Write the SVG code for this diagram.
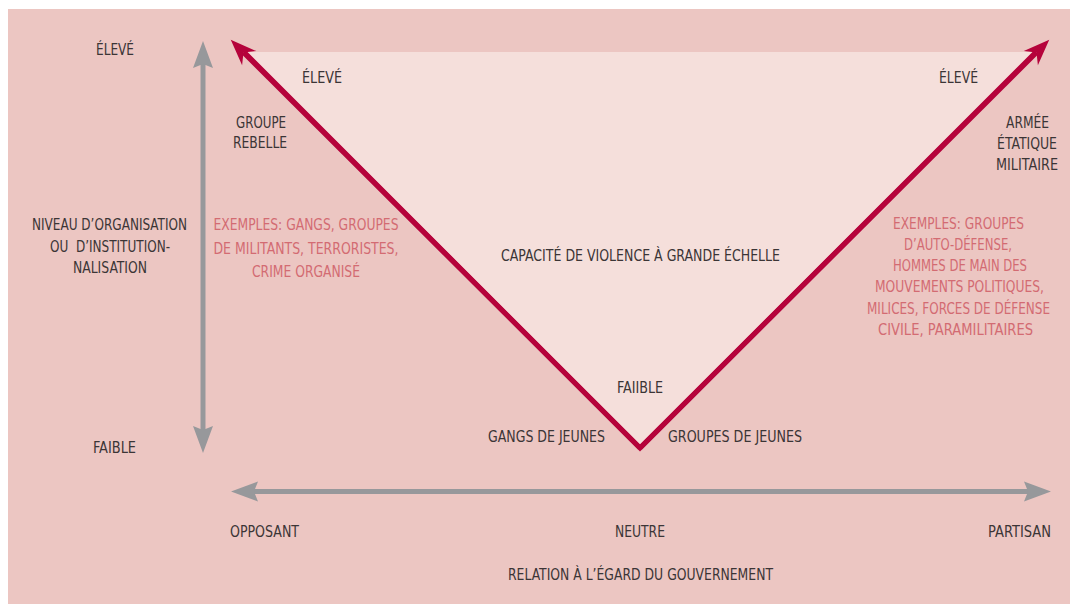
<svg xmlns="http://www.w3.org/2000/svg" width="1070" height="604" viewBox="0 0 1070 604">
  <style>
    text { font-family: "Liberation Sans Narrow", "DejaVu Sans Condensed", "Liberation Sans", sans-serif; font-size: 16px; text-anchor: middle; }
    .dark { fill: #3b3536; }
    .ex { fill: #d36b72; }
    .red { stroke: #b5033b; stroke-width: 5; fill: none; stroke-linejoin: miter; stroke-miterlimit: 4; }
    .grey { stroke: #97989b; stroke-width: 5; fill: none; }
  </style>
  <defs>
    <marker id="head-red" markerUnits="userSpaceOnUse" markerWidth="40" markerHeight="30" viewBox="-10 -15 40 30" refX="0" refY="0" orient="auto" overflow="visible">
      <path d="M18,0 L-8,-10 L0,0 L-8,10 Z" fill="#b5033b"/>
    </marker>
    <marker id="head-grey" markerUnits="userSpaceOnUse" markerWidth="40" markerHeight="30" viewBox="-10 -15 40 30" refX="0" refY="0" orient="auto" overflow="visible">
      <path d="M22,0 L-5,-10 L-1,0 L-5,10 Z" fill="#97989b"/>
    </marker>
  </defs>

  <!-- panel -->
  <rect x="0" y="0" width="1070" height="604" fill="#ffffff"/>
  <rect x="8" y="9" width="1062" height="595" fill="#ecc6c2"/>

  <!-- violence capacity area -->
  <polygon points="640,448 243,52 1037,52" fill="#f5dfdb"/>

  <g id="connectors">
    <!-- V shape -->
    <polyline class="red" points="244,52 640,448 1036,52"/>
    <line class="red" x1="640" y1="448" x2="243.5" y2="52.5" stroke-width="0" marker-end="url(#head-red)"/>
    <line class="red" x1="640" y1="448" x2="1036.5" y2="52.5" stroke-width="0" marker-end="url(#head-red)"/>
    <!-- vertical axis -->
    <line class="grey" x1="203" y1="240" x2="203" y2="63" marker-end="url(#head-grey)"/>
    <line class="grey" x1="203" y1="240" x2="203" y2="431" marker-end="url(#head-grey)"/>
    <!-- horizontal axis -->
    <line class="grey" x1="640" y1="491.5" x2="253" y2="491.5" marker-end="url(#head-grey)"/>
    <line class="grey" x1="640" y1="491.5" x2="1029" y2="491.5" marker-end="url(#head-grey)"/>
  </g>

  <g id="axis-y-high"><text class="dark" x="115" y="55" textLength="38" lengthAdjust="spacingAndGlyphs">ÉLEVÉ</text></g>
  <g id="axis-y-low"><text class="dark" x="114.5" y="453" textLength="43" lengthAdjust="spacingAndGlyphs">FAIBLE</text></g>
  <g id="axis-y-title">
    <text class="dark" x="109.5" y="230" textLength="155" lengthAdjust="spacingAndGlyphs">NIVEAU D’ORGANISATION</text>
    <text class="dark" x="110" y="252" textLength="120" lengthAdjust="spacingAndGlyphs" xml:space="preserve">OU  D’INSTITUTION-</text>
    <text class="dark" x="110" y="273" textLength="74" lengthAdjust="spacingAndGlyphs">NALISATION</text>
  </g>

  <g id="left-high"><text class="dark" x="322" y="83" textLength="40" lengthAdjust="spacingAndGlyphs">ÉLEVÉ</text></g>
  <g id="right-high"><text class="dark" x="958.5" y="83" textLength="39" lengthAdjust="spacingAndGlyphs">ÉLEVÉ</text></g>

  <g id="rebel-group">
    <text class="dark" x="261" y="128" textLength="50" lengthAdjust="spacingAndGlyphs">GROUPE</text>
    <text class="dark" x="260" y="148" textLength="54" lengthAdjust="spacingAndGlyphs">REBELLE</text>
  </g>

  <g id="state-army">
    <text class="dark" x="1027.5" y="128" textLength="43" lengthAdjust="spacingAndGlyphs">ARMÉE</text>
    <text class="dark" x="1027" y="149" textLength="60" lengthAdjust="spacingAndGlyphs">ÉTATIQUE</text>
    <text class="dark" x="1027" y="170" textLength="62" lengthAdjust="spacingAndGlyphs">MILITAIRE</text>
  </g>

  <g id="left-examples">
    <text class="ex" x="306" y="230" textLength="185" lengthAdjust="spacingAndGlyphs">EXEMPLES: GANGS, GROUPES</text>
    <text class="ex" x="306" y="254" textLength="185" lengthAdjust="spacingAndGlyphs">DE MILITANTS, TERRORISTES,</text>
    <text class="ex" x="306" y="277" textLength="108" lengthAdjust="spacingAndGlyphs">CRIME ORGANISÉ</text>
  </g>

  <!-- narrow column: glyphs pre-condensed by the transform, then fitted -->
  <g id="right-examples">
    <text class="ex" transform="translate(958.5,228.5) scale(0.8,1)" textLength="163.75" lengthAdjust="spacingAndGlyphs">EXEMPLES: GROUPES</text>
    <text class="ex" transform="translate(958,249.5) scale(0.8,1)" textLength="135" lengthAdjust="spacingAndGlyphs">D’AUTO-DÉFENSE,</text>
    <text class="ex" transform="translate(960,271) scale(0.8,1)" textLength="167.5" lengthAdjust="spacingAndGlyphs">HOMMES DE MAIN DES</text>
    <text class="ex" transform="translate(959.5,292) scale(0.8,1)" textLength="211.25" lengthAdjust="spacingAndGlyphs">MOUVEMENTS POLITIQUES,</text>
    <text class="ex" transform="translate(958.5,313.5) scale(0.8,1)" textLength="228.75" lengthAdjust="spacingAndGlyphs">MILICES, FORCES DE DÉFENSE</text>
    <text class="ex" transform="translate(955.5,334.5) scale(0.8,1)" textLength="193.75" lengthAdjust="spacingAndGlyphs">CIVILE, PARAMILITAIRES</text>
  </g>

  <g id="capacity"><text class="dark" x="640.5" y="261" textLength="279" lengthAdjust="spacingAndGlyphs">CAPACITÉ DE VIOLENCE À GRANDE ÉCHELLE</text></g>
  <g id="capacity-low"><text class="dark" x="640" y="393" textLength="46" lengthAdjust="spacingAndGlyphs">FAIIBLE</text></g>
  <g id="youth-gangs"><text class="dark" x="546.5" y="442" textLength="117" lengthAdjust="spacingAndGlyphs">GANGS DE JEUNES</text></g>
  <g id="youth-groups"><text class="dark" x="735" y="442" textLength="134" lengthAdjust="spacingAndGlyphs">GROUPES DE JEUNES</text></g>

  <g id="axis-x-opposed"><text class="dark" x="264.5" y="537" textLength="69" lengthAdjust="spacingAndGlyphs">OPPOSANT</text></g>
  <g id="axis-x-neutral"><text class="dark" x="640" y="537" textLength="50" lengthAdjust="spacingAndGlyphs">NEUTRE</text></g>
  <g id="axis-x-partisan"><text class="dark" x="1019.5" y="537" textLength="63" lengthAdjust="spacingAndGlyphs">PARTISAN</text></g>
  <g id="axis-x-title"><text class="dark" x="640.5" y="580" textLength="265" lengthAdjust="spacingAndGlyphs">RELATION À L’ÉGARD DU GOUVERNEMENT</text></g>
</svg>
